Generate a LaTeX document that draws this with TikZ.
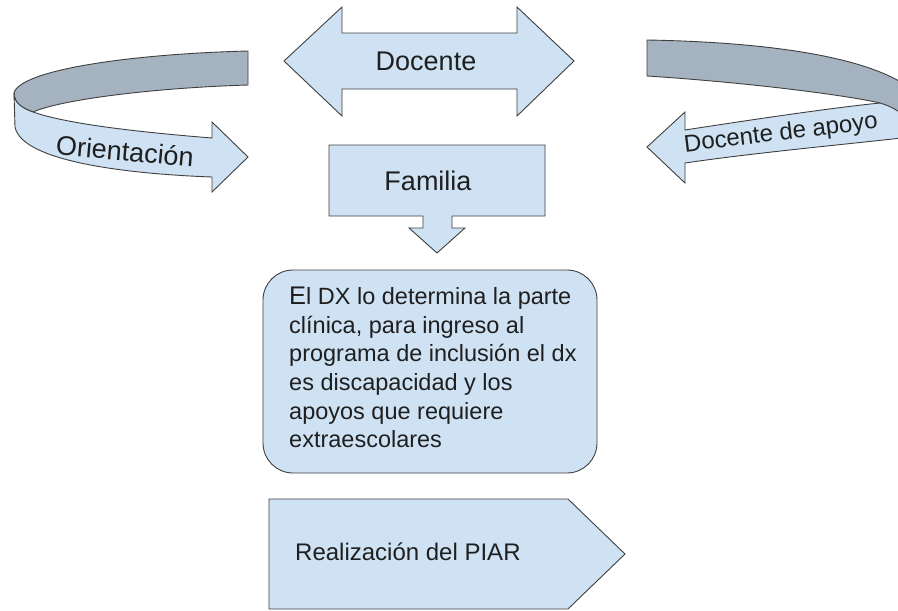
\documentclass[tikz,border=0pt]{standalone}
\usepackage{fontspec}
\setmainfont{Liberation Sans}
\definecolor{lb}{HTML}{CFE2F3}
\definecolor{gb}{HTML}{A5B3C0}
\definecolor{ln}{HTML}{3F3F3F}
\begin{document}
\begin{tikzpicture}[x=1pt,y=-1pt,
  frontpart/.style={fill=lb, draw=ln, line width=0.9pt, line join=miter},
  backpart/.style={fill=gb, draw=ln, line width=0.9pt, line join=miter},
  lbl/.style={inner sep=0pt, text=black!88}]
\useasboundingbox (0,0) rectangle (898,611);
\begin{scope}
\clip (0,0) rectangle (898,611);
% left curved arrow
\draw[backpart] (248,51) .. controls (130,54) and (20,70) .. (14,93)
  .. controls (14,103) and (22,108) .. (33,112)
  .. controls (60,100) and (150,88) .. (248,85) -- cycle;
\draw[frontpart] (14,93) .. controls (14,103) and (22,108) .. (33,112)
  .. controls (70,125) and (150,133) .. (212,138) -- (212,122) -- (248,157)
  -- (212,192) -- (212,177) .. controls (130,174) and (22,162) .. (15,127) -- cycle;
% right curved arrow
\draw[frontpart] (685,130) .. controls (750,120) and (830,108) .. (880,103)
  -- (910,97) -- (910,137) .. controls (860,143) and (760,152) .. (685,163)
  -- (685,183) -- (647,147) -- (685,112) -- cycle;
\draw[backpart] (647,40) .. controls (760,42) and (865,55) .. (910,88) -- (910,120)
  .. controls (898,110) and (890,106) .. (880,103)
  .. controls (840,94) and (740,82) .. (647,76) -- cycle;
\end{scope}
\node[lbl, rotate=-5, font=\fontsize{27}{27}\selectfont] (orient) at (125,151) {Orientación};
\node[lbl, rotate=7, font=\fontsize{24}{24}\selectfont] (apoyo) at (781,134) {Docente de apoyo};
% double arrow
\draw[frontpart] (284,61) -- (342,7) -- (342,33) -- (517,33) -- (517,7) -- (574,61)
  -- (517,116) -- (517,89) -- (342,89) -- (342,116) -- cycle;
\node[lbl, font=\fontsize{27}{27}\selectfont] (docente) at (426,61) {Docente};
% familia callout
\draw[frontpart] (329,145) -- (545,145) -- (545,216) -- (452,216) -- (452,228)
  -- (465,228) -- (437,253) -- (409,228) -- (423,228) -- (423,216) -- (329,216) -- cycle;
\node[lbl, font=\fontsize{27}{27}\selectfont] (familia) at (428,181) {Familia};
% rounded box
\draw[frontpart, rounded corners=30pt] (263,270) rectangle (597,473);
\node[lbl, anchor=north west, align=left, font=\fontsize{23.5}{28.6}\selectfont] (dxtext) at (289,287)
  {{\fontsize{25.5}{28.6}\selectfont E}l DX lo determina la parte\\
   clínica, para ingreso al\\
   programa de inclusión el dx\\
   es discapacidad y los\\
   apoyos que requiere\\
   extraescolares};
% PIAR
\draw[frontpart] (269,499) -- (568,499) -- (625,554) -- (568,609) -- (269,609) -- cycle;
\node[lbl, anchor=base west, font=\fontsize{24}{24}\selectfont] (piar) at (295,560) {Realización del PIAR};
\end{tikzpicture}
\end{document}
